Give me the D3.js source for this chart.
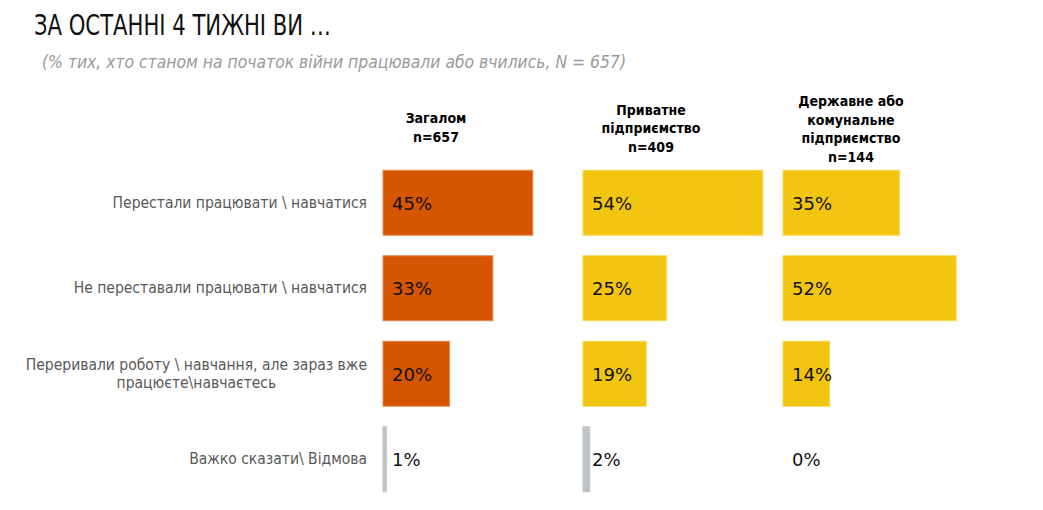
<!DOCTYPE html>
<html>
<head>
<meta charset="utf-8">
<script src="https://cdn.jsdelivr.net/npm/d3@7"></script>
<style>
  html, body { margin: 0; padding: 0; background: #fff; }
  svg { display: block; }
</style>
</head>
<body>
<svg id="chart" width="1043" height="510"></svg>
<script>
const title = "ЗА ОСТАННІ 4 ТИЖНІ ВИ …";
const subtitle = "(% тих, хто станом на початок війни працювали або вчились, N = 657)";
const categories = [
  ["Перестали працювати \\ навчатися"],
  ["Не переставали працювати \\ навчатися"],
  ["Переривали роботу \\ навчання, але зараз вже", "працюєте\\навчаєтесь"],
  ["Важко сказати\\ Відмова"]
];
const groupHeaders = [
  ["Загалом", "n=657"],
  ["Приватне", "підприємство", "n=409"],
  ["Державне або", "комунальне", "підприємство", "n=144"]
];
const totalValues   = [45, 33, 20, 1];
const privateValues = [54, 25, 19, 2];
const stateValues   = [35, 52, 14, 0];
const series = [totalValues, privateValues, stateValues];

const svg = d3.select("#chart");
const font = "'DejaVu Sans', Verdana, sans-serif";
const condFont = "'DejaVu Sans Condensed', 'DejaVu Sans', sans-serif";

// Title & subtitle
svg.append("text").attr("x", 34).attr("y", 35)
  .attr("font-family", condFont)
  .attr("font-size", 29).attr("fill", "#111")
  .attr("textLength", 297).attr("lengthAdjust", "spacingAndGlyphs")
  .text(title);
svg.append("text").attr("x", 42).attr("y", 68)
  .attr("font-family", condFont)
  .attr("font-style", "italic")
  .attr("font-size", 17).attr("fill", "#9a9a9a")
  .attr("textLength", 584).attr("lengthAdjust", "spacingAndGlyphs")
  .text(subtitle);

const catIdx = categories.map((d, i) => i);
const y = d3.scaleBand().domain(catIdx).range([160, 502]).paddingInner(0.24).paddingOuter(0.12);
const x = d3.scaleLinear().domain([0, 100]).range([0, 333]);
const panelX = d3.scaleBand().domain(series.map((d, i) => i)).range([383, 983]);
const headerOffset = [53, 68, 68];

const colorFor = (p, c) => c === categories.length - 1 ? "#BFC4C8" : (p === 0 ? "#D55500" : "#F2C511");
const strokeFor = (p, c) => c === categories.length - 1 ? "#BFC4C8" : (p === 0 ? "#E58A55" : "#F8D84E");

// Category labels (block right-aligned at 367, lines centred within block)
const labelRight = 367;
categories.forEach((lines, c) => {
  const cy = y(c) + y.bandwidth() / 2;
  const t = svg.append("text")
    .attr("font-family", condFont).attr("font-size", 15.5).attr("fill", "#595959");
  const lh = 18;
  const spans = lines.map((ln, k) => t.append("tspan")
    .attr("y", cy + 5 + (k - (lines.length - 1) / 2) * lh)
    .text(ln));
  const widths = spans.map(s => s.node().getComputedTextLength());
  const maxW = d3.max(widths);
  if (lines.length === 1) {
    t.attr("text-anchor", "end");
    spans.forEach(s => s.attr("x", labelRight));
  } else {
    t.attr("text-anchor", "middle");
    spans.forEach(s => s.attr("x", labelRight - maxW / 2));
  }
});

// Panels
series.forEach((vals, p) => {
  const px = panelX(p);
  const g = svg.append("g").attr("transform", `translate(${px},0)`);
  // header
  const hdr = groupHeaders[p];
  const hlh = 18.5;
  const lastBaseline = [141.5, 151.5, 161.5][p];
  const ht = g.append("text").attr("text-anchor", "middle")
    .attr("font-family", condFont).attr("font-weight", "bold")
    .attr("font-size", 14).attr("fill", "#000");
  hdr.forEach((ln, k) => {
    ht.append("tspan").attr("x", headerOffset[p])
      .attr("y", lastBaseline - (hdr.length - 1 - k) * hlh)
      .text(ln);
  });
  // bars
  g.selectAll("rect").data(vals).join("rect")
    .attr("x", 0)
    .attr("y", (d, c) => y(c))
    .attr("width", d => x(d))
    .attr("height", y.bandwidth())
    .attr("fill", (d, c) => colorFor(p, c))
    .attr("stroke", (d, c) => d > 0 ? strokeFor(p, c) : "none")
    .attr("stroke-width", 1);
  // values
  g.selectAll("text.val").data(vals).join("text")
    .attr("class", "val")
    .attr("x", 9)
    .attr("y", (d, c) => y(c) + y.bandwidth() / 2 + 7)
    .attr("font-family", font).attr("font-size", 18).attr("fill", "#111")
    .text(d => d + "%");
});
</script>
</body>
</html>
